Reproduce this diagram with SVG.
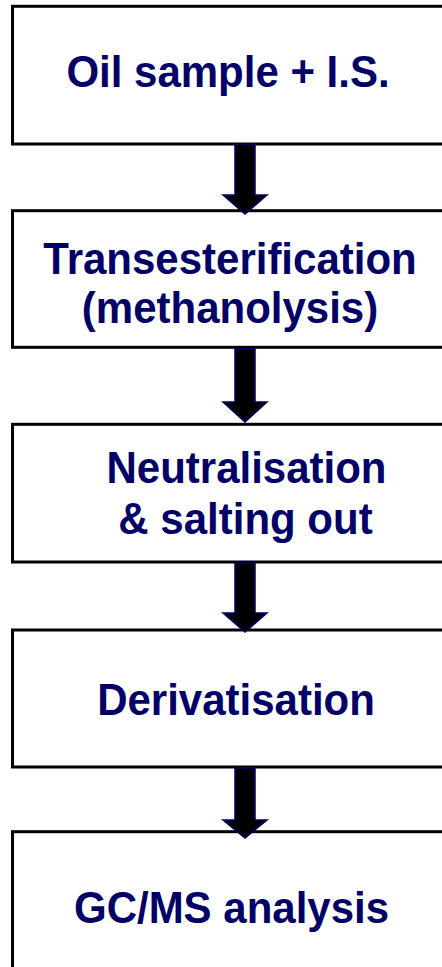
<svg xmlns="http://www.w3.org/2000/svg" width="442" height="967" viewBox="0 0 442 967">
<style>
.box{fill:#fff;stroke:#000;stroke-width:3}
.t{font-family:"Liberation Sans",Arial,sans-serif;font-weight:bold;font-size:42px;fill:#000066;text-anchor:middle}
.arr{fill:#000;stroke:#000066;stroke-width:1.5;stroke-linejoin:miter}
</style>
<rect x="0" y="0" width="442" height="967" fill="#fff"/>
<g id="n1"><rect class="box" x="12.5" y="6.3" width="450" height="137.7"/><text class="t" transform="translate(228,87) scale(1,1.07)">Oil sample + I.S.</text></g>
<g id="n2"><rect class="box" x="12.5" y="210.7" width="450" height="136.6"/><text class="t" transform="translate(230,274) scale(1,1.07)">Transesterification</text><text class="t" transform="translate(230,323) scale(1,1.07)">(methanolysis)</text></g>
<g id="n3"><rect class="box" x="12.5" y="424.3" width="450" height="137.7"/><text class="t" transform="translate(246.5,483) scale(1,1.07)">Neutralisation</text><text class="t" transform="translate(245.5,534) scale(1,1.07)">&amp; salting out</text></g>
<g id="n4"><rect class="box" x="12.5" y="630" width="450" height="137"/><text class="t" transform="translate(236,715) scale(1,1.07)">Derivatisation</text></g>
<g id="n5"><rect class="box" x="12.5" y="831.7" width="450" height="200"/><text class="t" transform="translate(231.5,923) scale(1,1.07)">GC/MS analysis</text></g>
<g id="connectors">
<path class="arr" d="M235,144 H255 V195 H267 L245,214 L223,195 H235 Z"/>
<path class="arr" d="M235,348.5 H255 V402 H267 L245,422 L223,402 H235 Z"/>
<path class="arr" d="M235,563 H255 V613 H267 L245,632 L223,613 H235 Z"/>
<path class="arr" d="M235,768 H255 V820 H267 L245,838 L223,820 H235 Z"/>
</g>
</svg>
